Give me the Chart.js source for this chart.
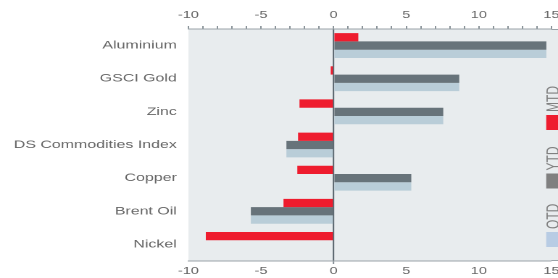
<!DOCTYPE html>
<html><head><meta charset="utf-8">
<script src="https://cdn.jsdelivr.net/npm/chart.js@4/dist/chart.umd.min.js"></script>
<style>
html,body{margin:0;padding:0;background:#fff;overflow:hidden;width:558px;height:278px;}
#wrap{position:absolute;left:0;top:0;width:391px;height:278px;transform:scaleX(1.4494);transform-origin:0 0;}
</style></head><body>
<div id="wrap"><canvas id="c"></canvas></div>
<script>
const categories = ['Aluminium','GSCI Gold','Zinc','DS Commodities Index','Copper','Brent Oil','Nickel'];
const mtd = [1.7, -0.2, -2.35, -2.45, -2.5, -3.45, -8.8];
const ytd = [14.65, 8.65, 7.55, -3.25, 5.35, -5.7, null];
const qtd = [14.65, 8.65, 7.55, -3.25, 5.35, -5.7, null];
const seriesNames = ['MTD','YTD','QTD'];
const xTickLabels = [-10,-5,0,5,10,15];

const barColors = ['#ee1c2e','#67737a','#b9cdd8'];
const legendColors = ['#ee1c2e','#808080','#b8cce4'];
const FONT = '"Liberation Sans", Arial, sans-serif';
Chart.defaults.font.family = FONT;

const bgPlugin = {
  id:'bg',
  beforeDraw(chart){
    const {ctx, chartArea:{left,top,bottom}} = chart;
    ctx.save();
    ctx.fillStyle = '#e8ecee';
    ctx.fillRect(left, top, chart.width - left, bottom - top);
    ctx.restore();
  },
  afterDraw(chart){
    const {ctx, chartArea:{right,top,bottom}} = chart;
    ctx.save();
    ctx.strokeStyle = '#9aa3a8'; ctx.lineWidth = 1;
    ctx.beginPath();
    ctx.moveTo(right, top+0.5); ctx.lineTo(chart.width, top+0.5);
    ctx.moveTo(right, bottom-0.5); ctx.lineTo(chart.width, bottom-0.5);
    ctx.stroke();
    // side legend
    ctx.font = '12px ' + FONT;
    seriesNames.forEach((name,i)=>{
      const sy = top + 86 + i*58.5;
      ctx.fillStyle = legendColors[i];
      ctx.fillRect(right-3.6, sy, 12, 15);
      ctx.save();
      ctx.translate(right+1.6, sy-3);
      ctx.rotate(-Math.PI/2);
      ctx.fillStyle = '#808080';
      ctx.textAlign = 'left';
      ctx.textBaseline = 'middle';
      ctx.fillText(name, 0, 0);
      ctx.restore();
    });
    ctx.restore();
  }
};

const tickCb = v => xTickLabels.includes(v) ? String(v) : '';

new Chart(document.getElementById('c'), {
  type:'bar',
  data:{
    labels: categories,
    datasets:[
      {label:seriesNames[0], data:mtd, backgroundColor:barColors[0]},
      {label:seriesNames[1], data:ytd, backgroundColor:barColors[1]},
      {label:seriesNames[2], data:qtd, backgroundColor:barColors[2]}
    ]
  },
  options:{
    indexAxis:'y',
    responsive:true,
    maintainAspectRatio:false,
    animation:false,
    devicePixelRatio:2,
    categoryPercentage:0.75,
    barPercentage:1.0,
    layout:{padding:{left:1.5, top:4, bottom:0, right:0}},
    plugins:{legend:{display:false}, tooltip:{enabled:false}},
    scales:{
      x:{
        type:'linear', position:'bottom', min:-10, max:15,
        ticks:{stepSize:1, autoSkip:false, maxRotation:0, callback:tickCb, color:'#666', font:{size:10}, padding:1},
        grid:{
          drawOnChartArea:true, drawTicks:true, tickLength:3,
          color: c => (c.tick && c.tick.value === 0) ? '#5f6a72' : 'rgba(0,0,0,0)',
          lineWidth: c => (c.tick && c.tick.value === 0) ? 1.1 : 0,
          tickColor:'#8a9399'
        },
        border:{display:true, color:'#9aa3a8', width:1}
      },
      x2:{
        type:'linear', position:'top', min:-10, max:15,
        ticks:{stepSize:1, autoSkip:false, maxRotation:0, callback:tickCb, color:'#666', font:{size:10}, padding:5},
        grid:{drawOnChartArea:false, drawTicks:true, tickLength:3, tickColor:'#8a9399'},
        border:{display:true, color:'#9aa3a8', width:1}
      },
      y:{
        grid:{display:false, drawTicks:false, tickLength:0},
        border:{display:false},
        ticks:{color:'#666', font:{size:11}, padding:8}
      }
    }
  },
  plugins:[bgPlugin]
});
</script>
</body></html>
